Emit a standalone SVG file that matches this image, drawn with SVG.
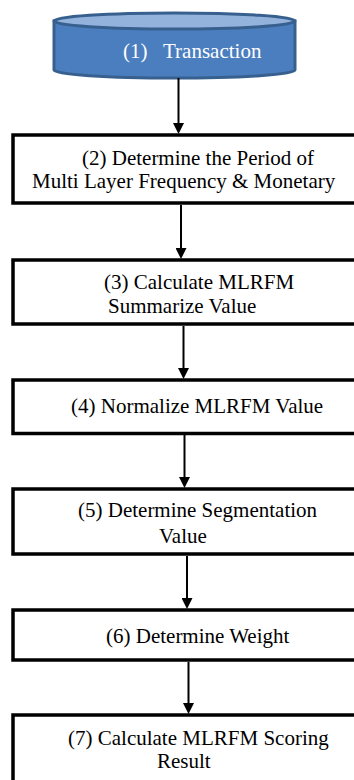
<svg xmlns="http://www.w3.org/2000/svg" width="354" height="780" viewBox="0 0 354 780" font-family="'Liberation Serif', 'DejaVu Serif', serif">
  <style>
    .box { fill: #ffffff; stroke: #000000; stroke-width: 3.5; }
    .label { font-size: 21px; fill: #000000; }
    .db-label { font-size: 21px; fill: #ffffff; }
    .flow { stroke: #000000; stroke-width: 2; fill: none; marker-end: url(#arrow); }
  </style>
  <defs>
    <marker id="arrow" markerUnits="userSpaceOnUse" markerWidth="11" markerHeight="11" refX="5" refY="5.5" orient="auto">
      <path d="M0,0 L11,5.5 L0,11 Z" fill="#000000"/>
    </marker>
  </defs>
  <rect width="354" height="780" fill="#ffffff"/>

  <!-- step 1: transaction data store (cylinder) -->
  <g id="node-1">
    <path d="M54,21 L54,70 A120.5,8 0 0 0 295,70 L295,21 Z" fill="#4A7EBF" stroke="#38608F" stroke-width="3"/>
    <ellipse cx="174.5" cy="21" rx="120.5" ry="8" fill="#93B3DC" stroke="#38608F" stroke-width="3"/>
    <text class="db-label" y="58"><tspan x="123">(1)</tspan><tspan x="163">Transaction</tspan></text>
  </g>

  <!-- process steps -->
  <g id="node-2">
    <rect class="box" x="13" y="135" width="360" height="68"/>
    <text class="label" x="82" y="165">(2) Determine the Period of</text>
    <text class="label" x="32" y="188">Multi Layer Frequency &amp; Monetary</text>
  </g>
  <g id="node-3">
    <rect class="box" x="13" y="260" width="360" height="64"/>
    <text class="label" x="104" y="289">(3) Calculate MLRFM</text>
    <text class="label" x="108" y="313">Summarize Value</text>
  </g>
  <g id="node-4">
    <rect class="box" x="13" y="380" width="360" height="53.5"/>
    <text class="label" x="71" y="413">(4) Normalize MLRFM Value</text>
  </g>
  <g id="node-5">
    <rect class="box" x="13" y="489" width="360" height="65"/>
    <text class="label" x="78" y="517">(5) Determine Segmentation</text>
    <text class="label" x="159" y="543">Value</text>
  </g>
  <g id="node-6">
    <rect class="box" x="13" y="610" width="360" height="50"/>
    <text class="label" x="106" y="643">(6) Determine Weight</text>
  </g>
  <g id="node-7">
    <rect class="box" x="13" y="715" width="360" height="90"/>
    <text class="label" x="68" y="745">(7) Calculate MLRFM Scoring</text>
    <text class="label" x="157" y="768">Result</text>
  </g>

  <!-- connectors -->
  <g id="connectors">
    <line class="flow" x1="178.5" y1="78" x2="178.5" y2="128"/>
    <line class="flow" x1="181" y1="205" x2="181" y2="253"/>
    <line class="flow" x1="183.5" y1="326" x2="183.5" y2="373"/>
    <line class="flow" x1="184.5" y1="435" x2="184.5" y2="482"/>
    <line class="flow" x1="187" y1="556" x2="187" y2="603"/>
    <line class="flow" x1="188.5" y1="662" x2="188.5" y2="708"/>
  </g>
</svg>
